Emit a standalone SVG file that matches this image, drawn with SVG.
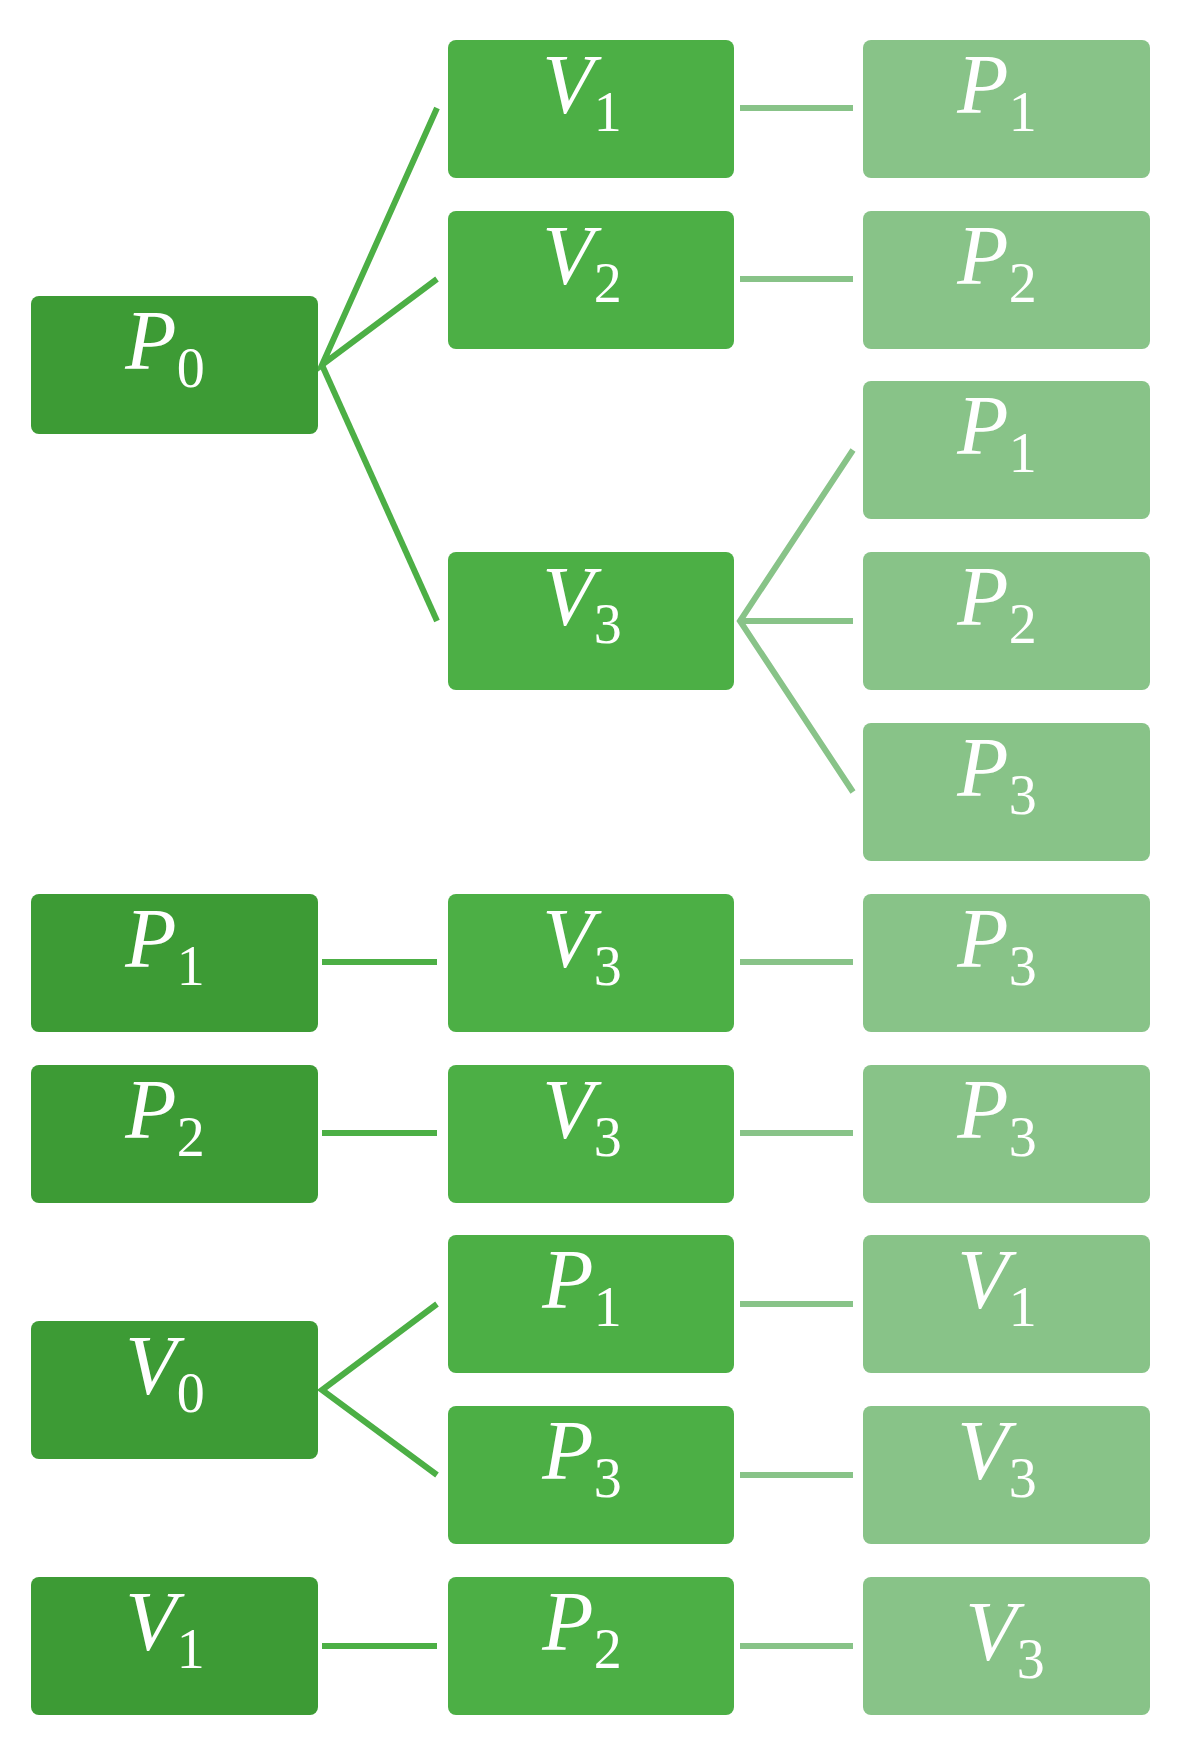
<svg xmlns="http://www.w3.org/2000/svg" width="1190" height="1752" viewBox="0 0 1190 1752">
<style>
.d{fill:#3d9b35}.m{fill:#4caf45}.l{fill:#88c388}
text{font-family:"Liberation Serif",serif;fill:#fff;text-anchor:middle}
.v{font-style:italic;font-size:84px}.s{font-size:56px;font-style:normal}
.cm{stroke:#4caf45;stroke-width:6;fill:none}.cl{stroke:#88c388;stroke-width:6;fill:none}
</style>
<rect width="1190" height="1752" fill="#fff"/>
<g id="connectors">
<polyline class="cm" points="437,108 322,365 437,279"/>
<polyline class="cm" points="322,365 437,621"/>
<line class="cl" x1="740" y1="108" x2="853" y2="108"/>
<line class="cl" x1="740" y1="279" x2="853" y2="279"/>
<polyline class="cl" points="853,450 740,621 853,792"/>
<line class="cl" x1="740" y1="621" x2="853" y2="621"/>
<line class="cm" x1="322" y1="962" x2="437" y2="962"/>
<line class="cl" x1="740" y1="962" x2="853" y2="962"/>
<line class="cm" x1="322" y1="1133" x2="437" y2="1133"/>
<line class="cl" x1="740" y1="1133" x2="853" y2="1133"/>
<polyline class="cm" points="437,1304 322,1390 437,1475"/>
<line class="cl" x1="740" y1="1304" x2="853" y2="1304"/>
<line class="cl" x1="740" y1="1475" x2="853" y2="1475"/>
<line class="cm" x1="322" y1="1646" x2="437" y2="1646"/>
<line class="cl" x1="740" y1="1646" x2="853" y2="1646"/>
</g>
<g id="n1"><rect class="d" x="31" y="296" width="287" height="138" rx="8"/><text x="165" y="369"><tspan class="v">P</tspan><tspan class="s" dy="18">0</tspan></text></g>
<g id="n2"><rect class="m" x="448" y="40" width="286" height="138" rx="8"/><text x="582" y="113"><tspan class="v">V</tspan><tspan class="s" dy="18">1</tspan></text></g>
<g id="n3"><rect class="m" x="448" y="211" width="286" height="138" rx="8"/><text x="582" y="284"><tspan class="v">V</tspan><tspan class="s" dy="18">2</tspan></text></g>
<g id="n4"><rect class="m" x="448" y="552" width="286" height="138" rx="8"/><text x="582" y="625"><tspan class="v">V</tspan><tspan class="s" dy="18">3</tspan></text></g>
<g id="n5"><rect class="l" x="863" y="40" width="287" height="138" rx="8"/><text x="997" y="113"><tspan class="v">P</tspan><tspan class="s" dy="18">1</tspan></text></g>
<g id="n6"><rect class="l" x="863" y="211" width="287" height="138" rx="8"/><text x="997" y="284"><tspan class="v">P</tspan><tspan class="s" dy="18">2</tspan></text></g>
<g id="n7"><rect class="l" x="863" y="381" width="287" height="138" rx="8"/><text x="997" y="454"><tspan class="v">P</tspan><tspan class="s" dy="18">1</tspan></text></g>
<g id="n8"><rect class="l" x="863" y="552" width="287" height="138" rx="8"/><text x="997" y="625"><tspan class="v">P</tspan><tspan class="s" dy="18">2</tspan></text></g>
<g id="n9"><rect class="l" x="863" y="723" width="287" height="138" rx="8"/><text x="997" y="796"><tspan class="v">P</tspan><tspan class="s" dy="18">3</tspan></text></g>
<g id="n10"><rect class="d" x="31" y="894" width="287" height="138" rx="8"/><text x="165" y="967"><tspan class="v">P</tspan><tspan class="s" dy="18">1</tspan></text></g>
<g id="n11"><rect class="m" x="448" y="894" width="286" height="138" rx="8"/><text x="582" y="967"><tspan class="v">V</tspan><tspan class="s" dy="18">3</tspan></text></g>
<g id="n12"><rect class="l" x="863" y="894" width="287" height="138" rx="8"/><text x="997" y="967"><tspan class="v">P</tspan><tspan class="s" dy="18">3</tspan></text></g>
<g id="n13"><rect class="d" x="31" y="1065" width="287" height="138" rx="8"/><text x="165" y="1138"><tspan class="v">P</tspan><tspan class="s" dy="18">2</tspan></text></g>
<g id="n14"><rect class="m" x="448" y="1065" width="286" height="138" rx="8"/><text x="582" y="1138"><tspan class="v">V</tspan><tspan class="s" dy="18">3</tspan></text></g>
<g id="n15"><rect class="l" x="863" y="1065" width="287" height="138" rx="8"/><text x="997" y="1138"><tspan class="v">P</tspan><tspan class="s" dy="18">3</tspan></text></g>
<g id="n16"><rect class="d" x="31" y="1321" width="287" height="138" rx="8"/><text x="165" y="1394"><tspan class="v">V</tspan><tspan class="s" dy="18">0</tspan></text></g>
<g id="n17"><rect class="m" x="448" y="1235" width="286" height="138" rx="8"/><text x="582" y="1308"><tspan class="v">P</tspan><tspan class="s" dy="18">1</tspan></text></g>
<g id="n18"><rect class="m" x="448" y="1406" width="286" height="138" rx="8"/><text x="582" y="1479"><tspan class="v">P</tspan><tspan class="s" dy="18">3</tspan></text></g>
<g id="n19"><rect class="l" x="863" y="1235" width="287" height="138" rx="8"/><text x="997" y="1308"><tspan class="v">V</tspan><tspan class="s" dy="18">1</tspan></text></g>
<g id="n20"><rect class="l" x="863" y="1406" width="287" height="138" rx="8"/><text x="997" y="1479"><tspan class="v">V</tspan><tspan class="s" dy="18">3</tspan></text></g>
<g id="n21"><rect class="d" x="31" y="1577" width="287" height="138" rx="8"/><text x="165" y="1650"><tspan class="v">V</tspan><tspan class="s" dy="18">1</tspan></text></g>
<g id="n22"><rect class="m" x="448" y="1577" width="286" height="138" rx="8"/><text x="582" y="1650"><tspan class="v">P</tspan><tspan class="s" dy="18">2</tspan></text></g>
<g id="n23"><rect class="l" x="863" y="1577" width="287" height="138" rx="8"/><text x="1005" y="1660"><tspan class="v">V</tspan><tspan class="s" dy="18">3</tspan></text></g>
</svg>
